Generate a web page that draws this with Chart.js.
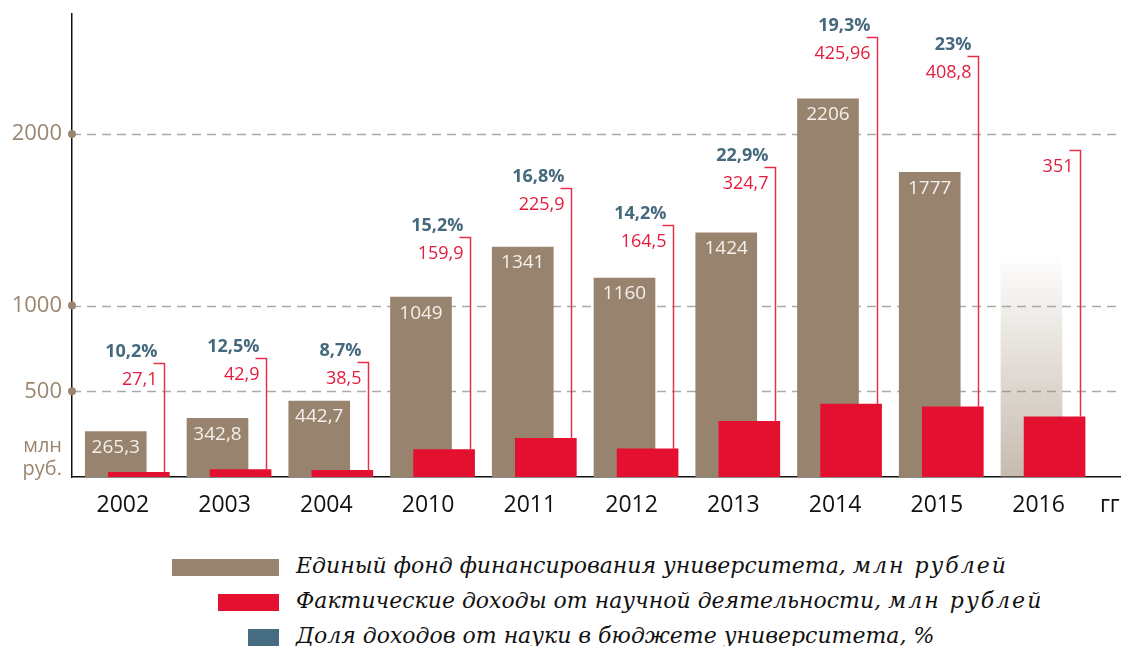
<!DOCTYPE html>
<html lang="ru">
<head>
<meta charset="utf-8">
<title>Финансирование университета</title>
<script src="https://cdn.jsdelivr.net/npm/chart.js@4.4.1/dist/chart.umd.min.js"></script>
<style>
    html, body { margin: 0; padding: 0; background: #fff; }
    #wrap { position: relative; width: 1134px; height: 646px; overflow: hidden; }
    #chartBox { position: absolute; left: 0; top: 0; width: 1134px; height: 530px; }
    .legend-row { position: absolute; left: 0; width: 1134px; height: 17px; }
    .legend-swatch { position: absolute; top: 0; height: 17px; }
    .legend-text {
        position: absolute; left: 296px; top: -6px;
        white-space: nowrap; line-height: 28px;
        font: italic 22px "DejaVu Serif", serif; color: #111;
    }
    .legend-text .unit { letter-spacing: 2px; }
</style>
</head>
<body>
<div id="wrap">
    <div id="chartBox"><canvas id="fundChart"></canvas></div>
    <div id="legend"></div>
</div>

<script>
// =========================================================
// DATA
// =========================================================

const years = ["2002", "2003", "2004", "2010", "2011", "2012", "2013", "2014", "2015", "2016"];
const fund = [265.3, 342.8, 442.7, 1049, 1341, 1160, 1424, 2206, 1777, 1310];   // 2016 - faded bar, no value
const fundIsForecast = [false, false, false, false, false, false, false, false, false, true];
const science = [27.1, 42.9, 38.5, 159.9, 225.9, 164.5, 324.7, 425.96, 408.8, 351];
const sharePct = [10.2, 12.5, 8.7, 15.2, 16.8, 14.2, 22.9, 19.3, 23, null];
const calloutLevel = [667, 696, 672, 1398, 1684, 1468, 1807, 2567, 2456, 1906]; // top of the red callout, axis units
const yTicks = [500, 1000, 2000];
const unitLabel = ["млн", "руб."];
const yearUnit = "гг";
const legendNames = [
    "Единый фонд финансирования университета,",
    "Фактические доходы от научной деятельности,",
    "Доля доходов от науки в бюджете университета, %"
];
const legendUnit = ["млн рублей", "млн рублей", ""];

// =========================================================
// STYLE
// =========================================================

const BROWN = "#98836e";
const RED = "#e3102f";
const TEAL = "#456c80";
const AXIS_TEXT = "#9b8671";
const FONT = "'Open Sans', 'Noto Sans', sans-serif";

const fmt = v => String(v).replace(".", ",");

// =========================================================
// LEGEND (html)
// =========================================================

function buildLegend() {
    const box = document.getElementById("legend");
    const colors = [BROWN, RED, TEAL];
    const swatchLeft = [172, 218, 248];
    const rowTop = [559, 594, 629];
    legendNames.forEach((name, i) => {
        const row = document.createElement("div");
        row.className = "legend-row";
        row.style.top = rowTop[i] + "px";
        const sw = document.createElement("div");
        sw.className = "legend-swatch";
        sw.style.left = swatchLeft[i] + "px";
        sw.style.width = (279 - swatchLeft[i]) + "px";
        sw.style.background = colors[i];
        const txt = document.createElement("div");
        txt.className = "legend-text";
        txt.textContent = name + " ";
        if (legendUnit[i]) {
            const u = document.createElement("span");
            u.className = "unit";
            u.textContent = legendUnit[i];
            txt.appendChild(u);
        }
        row.appendChild(sw);
        row.appendChild(txt);
        box.appendChild(row);
    });
}

// =========================================================
// DECORATION PLUGIN
// =========================================================

const decorPlugin = {
    id: "decor",
    beforeDatasetsDraw(chart) {
        const { ctx, chartArea, scales: { y } } = chart;
        ctx.save();
        ctx.strokeStyle = "#aaaaaa";
        ctx.lineWidth = 1.3;
        ctx.setLineDash([9, 6]);
        yTicks.forEach(v => {
            const py = Math.round(y.getPixelForValue(v)) + 0.5;
            ctx.beginPath();
            ctx.moveTo(chartArea.left, py);
            ctx.lineTo(chartArea.right, py);
            ctx.stroke();
        });
        ctx.restore();
    },
    afterDraw(chart) {
        const { ctx, chartArea, scales: { y } } = chart;
        const fundMeta = chart.getDatasetMeta(1);
        const sciMeta = chart.getDatasetMeta(0);

        ctx.save();

        // dots on the y axis
        ctx.fillStyle = AXIS_TEXT;
        yTicks.forEach(v => {
            ctx.beginPath();
            ctx.arc(chartArea.left, y.getPixelForValue(v), 4, 0, Math.PI * 2);
            ctx.fill();
        });

        // unit label under the axis ticks
        ctx.font = "20px " + FONT;
        ctx.textAlign = "right";
        ctx.textBaseline = "middle";
        ctx.fillText(unitLabel[0], 62, 446);
        ctx.fillText(unitLabel[1], 62, 469);

        // values inside the brown bars
        ctx.fillStyle = "#f5f0ea";
        ctx.font = "19px " + FONT;
        ctx.textAlign = "center";
        fundMeta.data.forEach((bar, i) => {
            if (fundIsForecast[i]) return;
            ctx.fillText(fmt(fund[i]), bar.x, bar.y + 16);
        });

        // red callouts with value and share
        sciMeta.data.forEach((bar, i) => {
            const lineX = Math.round(bar.x + bar.width / 2 - 5) + 0.5;
            const topY = Math.round(y.getPixelForValue(calloutLevel[i])) + 0.5;
            ctx.strokeStyle = "#e8304d";
            ctx.lineWidth = 1.5;
            ctx.beginPath();
            ctx.moveTo(lineX, bar.y);
            ctx.lineTo(lineX, topY);
            ctx.lineTo(lineX - 11, topY);
            ctx.stroke();

            ctx.textAlign = "right";
            ctx.fillStyle = "#e41c3d";
            ctx.font = "18px " + FONT;
            ctx.fillText(fmt(science[i]), lineX - 7, topY + 16);

            if (sharePct[i] != null) {
                ctx.fillStyle = "#46697d";
                ctx.font = "bold 18px " + FONT;
                ctx.fillText(fmt(sharePct[i]) + "%", lineX - 7, topY - 12);
            }
        });

        ctx.restore();
    }
};

// =========================================================
// CHART
// =========================================================

function fundColor(c) {
    if (!fundIsForecast[c.dataIndex]) return BROWN;
    const chart = c.chart;
    if (!chart.chartArea) return "rgba(152,131,110,0.3)";
    const y = chart.scales.y;
    const g = chart.ctx.createLinearGradient(0, y.getPixelForValue(0), 0, y.getPixelForValue(fund[c.dataIndex]));
    g.addColorStop(0, "rgba(152,131,110,0.55)");
    g.addColorStop(1, "rgba(152,131,110,0)");
    return g;
}

function renderChart() {
    new Chart(document.getElementById("fundChart"), {
        type: "bar",
        data: {
            datasets: [
                {
                    label: legendNames[1],
                    data: science.map((v, i) => ({ x: i + 0.157, y: v })),
                    backgroundColor: RED,
                    grouped: false,
                    barThickness: 61,
                    order: 1
                },
                {
                    label: legendNames[0],
                    data: fund.map((v, i) => ({ x: i - 0.07, y: v })),
                    backgroundColor: fundColor,
                    grouped: false,
                    barThickness: 61,
                    order: 2
                }
            ]
        },
        options: {
            responsive: true,
            maintainAspectRatio: false,
            animation: false,
            layout: { padding: { top: 14, right: 14, left: 0, bottom: 0 } },
            plugins: {
                legend: { display: false },
                tooltip: { enabled: false }
            },
            scales: {
                x: {
                    type: "linear",
                    bounds: "data",
                    offset: false,
                    min: -0.5,
                    max: 9.8,
                    afterBuildTicks: s => {
                        s.ticks = years.map((_, i) => ({ value: i })).concat([{ value: 9.7 }]);
                    },
                    afterFit: s => {
                        s.height = 53;
                        s.paddingLeft = 0;
                        s.paddingRight = 0;
                    },
                    grid: { display: false, drawTicks: false, tickLength: 0 },
                    border: { display: true, color: "#111", width: 1.5 },
                    ticks: {
                        autoSkip: false,
                        maxRotation: 0,
                        padding: 15,
                        color: "#111",
                        font: { family: FONT, size: 23 },
                        callback: (v, i) => (i < years.length ? years[i] : yearUnit)
                    }
                },
                y: {
                    min: 0,
                    max: 2700,
                    afterBuildTicks: s => { s.ticks = yTicks.map(v => ({ value: v })); },
                    afterFit: s => {
                        s.width = 72;
                        s.paddingTop = 0;
                        s.paddingBottom = 0;
                    },
                    grid: { display: false, drawTicks: false, tickLength: 0 },
                    border: { display: true, color: "#111", width: 1.5 },
                    ticks: {
                        padding: 10,
                        color: AXIS_TEXT,
                        font: { family: FONT, size: 22 },
                        callback: v => String(v)
                    }
                }
            }
        },
        plugins: [decorPlugin]
    });
}

buildLegend();
renderChart();
</script>
</body>
</html>
